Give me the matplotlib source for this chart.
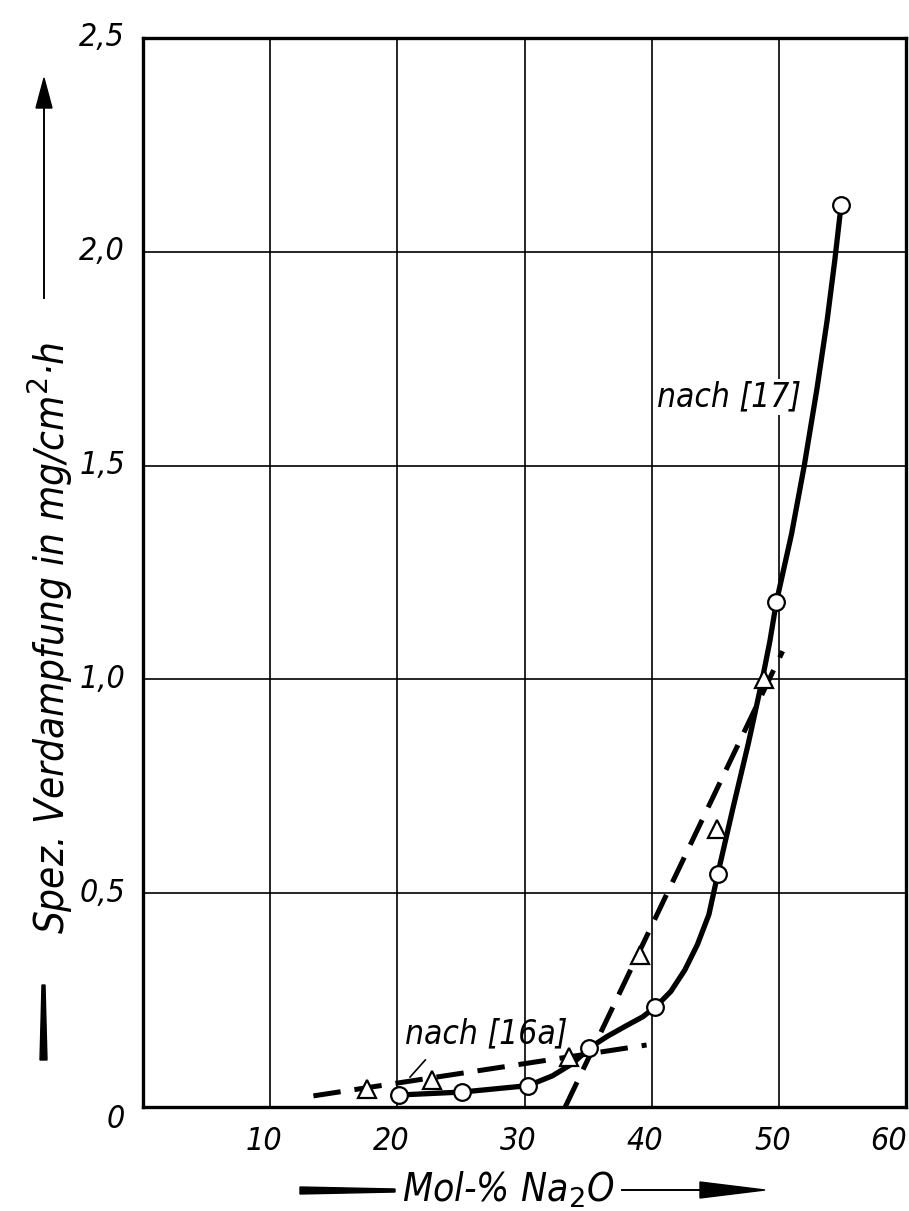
import matplotlib
matplotlib.use('Agg')
import matplotlib.pyplot as plt
from matplotlib.patches import Polygon
import numpy as np

# measured points, nach [17] (circles)
circ_x = [20.1, 25.1, 30.3, 35.1, 40.3, 45.2, 49.8, 54.9]
circ_y = [0.028, 0.035, 0.05, 0.138, 0.234, 0.545, 1.18, 2.11]

# drawn curve through the circles
curve_x = [20.1, 25.1, 30.3, 32.2, 33.8, 35.1, 36.5, 38.0, 39.3, 40.3, 41.5, 42.6, 43.6,
           44.5, 45.2, 46.4, 47.6, 48.7, 49.3, 49.8, 51.0, 52.0, 53.0, 53.8, 54.4, 54.9]
curve_y = [0.028, 0.035, 0.05, 0.073, 0.102, 0.138, 0.165, 0.19, 0.211, 0.234, 0.27, 0.32, 0.38,
           0.45, 0.545, 0.70, 0.85, 1.0, 1.09, 1.18, 1.34, 1.5, 1.68, 1.84, 1.98, 2.11]

# measured points, nach [16a] (triangles)
tri_x = [17.6, 22.7, 33.5, 39.1, 45.1, 48.8]
tri_y = [0.042, 0.063, 0.117, 0.356, 0.649, 1.0]

# the two dashed straight lines
dash1_x = [13.4, 39.6]
dash1_y = [0.026, 0.145]
dash2_x = [33.2, 50.3]
dash2_y = [0.0, 1.066]

xticks = [10, 20, 30, 40, 50, 60]
yticks = [0, 0.5, 1.0, 1.5, 2.0, 2.5]
ytick_labels = ['0', '0,5', '1,0', '1,5', '2,0', '2,5']

W, H = 909, 1211
fnt = dict(family=['DejaVu Sans'], style='italic', stretch='condensed')

fig = plt.figure(figsize=(W / 100, H / 100), dpi=100)
ax = fig.add_axes([143 / W, 1 - 1107 / H, (906 - 143) / W, (1107 - 38) / H])
ax.set_xlim(0, 60)
ax.set_ylim(0, 2.5)
for s in ax.spines.values():
    s.set_linewidth(2.4)
for xv in xticks[:-1]:
    ax.axvline(xv, color='black', lw=1.2, zorder=1)
for yv in yticks[1:-1]:
    ax.axhline(yv, color='black', lw=1.2, zorder=1)
ax.set_xticks([])
ax.set_yticks([])

ax.plot(dash1_x, dash1_y, color='black', lw=3.6, ls=(0, (5.5, 2.8)), zorder=3)
ax.plot(dash2_x, dash2_y, color='black', lw=3.6, ls=(0, (5.5, 2.8)), zorder=3)
ax.plot(curve_x, curve_y, color='black', lw=3.8, solid_joinstyle='round', solid_capstyle='round', zorder=4)
ax.plot(circ_x, circ_y, 'o', ms=12, mfc='white', mec='black', mew=1.6, zorder=5, clip_on=False)
ax.plot(tri_x, tri_y, '^', ms=13, mfc='white', mec='black', mew=1.6, zorder=5, clip_on=False)

ax.text(46.1, 1.66, 'nach [17]', fontsize=24, ha='center', va='center', zorder=6,
        bbox=dict(facecolor='white', edgecolor='none', pad=1), **fnt)
ax.text(27.0, 0.17, 'nach [16a]', fontsize=24, ha='center', va='center', zorder=6, **fnt)
ax.plot([22.2, 21.0], [0.11, 0.07], color='black', lw=1.2, zorder=6)

# tick labels
for xv in xticks:
    if xv == 60:
        ax.text(60.1, -0.08, str(xv), fontsize=23, ha='right', va='center', clip_on=False, **fnt)
    else:
        ax.text(xv - 0.5, -0.08, str(xv), fontsize=23, ha='center', va='center', clip_on=False, **fnt)
for yv, lab in zip(yticks, ytick_labels):
    off = -0.03 if yv == 0 else 0
    ax.text(-1.4, yv + off, lab, fontsize=23, ha='right', va='center', clip_on=False, **fnt)

# overlay in pixel coordinates for the axis titles with arrows
ov = fig.add_axes([0, 0, 1, 1], facecolor='none')
ov.set_xlim(0, W)
ov.set_ylim(H, 0)
ov.axis('off')

# x title
ov.add_patch(Polygon([[300, 1187], [395, 1189], [395, 1192], [300, 1194]], closed=True, color='black'))
ov.text(508, 1190, 'Mol-% Na$_2$O', fontsize=28, ha='center', va='center', **fnt)
ov.plot([622, 705], [1190, 1190], color='black', lw=1.4)
ov.add_patch(Polygon([[700, 1182], [765, 1190], [700, 1198]], closed=True, color='black'))

# y title
ov.add_patch(Polygon([[40, 1060], [47, 1060], [45, 985], [42, 985]], closed=True, color='black'))
ov.text(50, 638, 'Spez. Verdampfung in mg/cm$^2$·h', fontsize=29, rotation=90,
        ha='center', va='center', **fnt)
ov.plot([44, 44], [105, 298], color='black', lw=1.4)
ov.add_patch(Polygon([[36, 108], [44, 78], [52, 108]], closed=True, color='black'))

fig.savefig('out.png', dpi=100)
